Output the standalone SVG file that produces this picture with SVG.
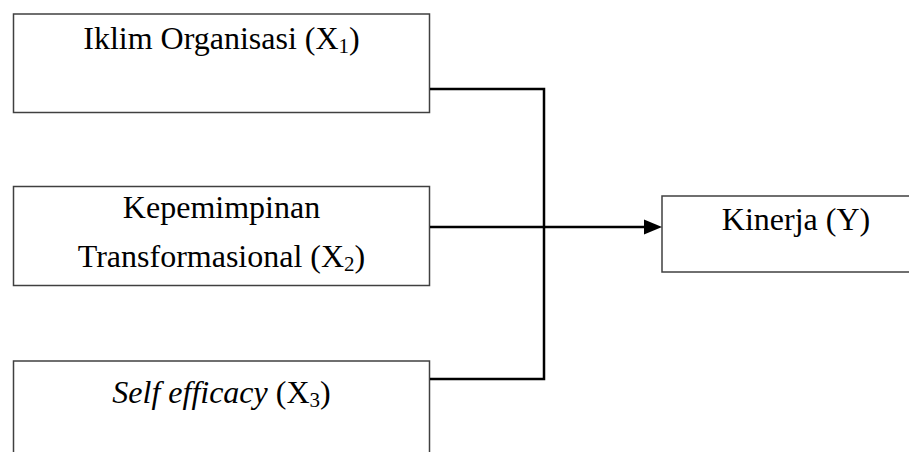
<svg xmlns="http://www.w3.org/2000/svg" width="909" height="452" viewBox="0 0 909 452">
<style>
.box{fill:#fff;stroke:#404040;stroke-width:1.5}
.t{font-family:"Liberation Serif","Times New Roman",serif;font-size:32px;fill:#000;text-anchor:middle}
.sub{font-size:21px}
.c{fill:none;stroke:#000;stroke-width:2.5}
</style>
<defs>
<marker id="ah" markerWidth="8" markerHeight="8" refX="7.2" refY="3" orient="auto" markerUnits="strokeWidth" viewBox="0 0 7.2 6">
<path d="M0,0 L7.2,3 L0,6 Z" fill="#000"/>
</marker>
</defs>
<g id="x1">
<rect class="box" x="13.5" y="14" width="416" height="98.5"/>
<text class="t" x="221.5" y="49">Iklim Organisasi (X<tspan class="sub" dy="4">1</tspan><tspan dy="-4">)</tspan></text>
</g>
<g id="x2">
<rect class="box" x="13.5" y="186.5" width="416" height="99"/>
<text class="t" x="221.5" y="218">Kepemimpinan</text>
<text class="t" x="221.5" y="267">Transformasional (X<tspan class="sub" dy="4">2</tspan><tspan dy="-4">)</tspan></text>
</g>
<g id="x3">
<rect class="box" x="13.5" y="361" width="416" height="110"/>
<text class="t" x="221.5" y="403"><tspan font-style="italic">Self efficacy</tspan> (X<tspan class="sub" dy="4">3</tspan><tspan dy="-4">)</tspan></text>
</g>
<g id="y">
<rect class="box" x="662" y="196" width="270" height="76"/>
<text class="t" x="796" y="230">Kinerja (Y)</text>
</g>
<g id="connectors">
<polyline class="c" points="430,89 544,89 544,379 430,379"/>
<line class="c" x1="430" y1="227" x2="644" y2="227"/>
<polygon points="644,219.5 662,227 644,234.5" fill="#000"/>
</g>
</svg>
